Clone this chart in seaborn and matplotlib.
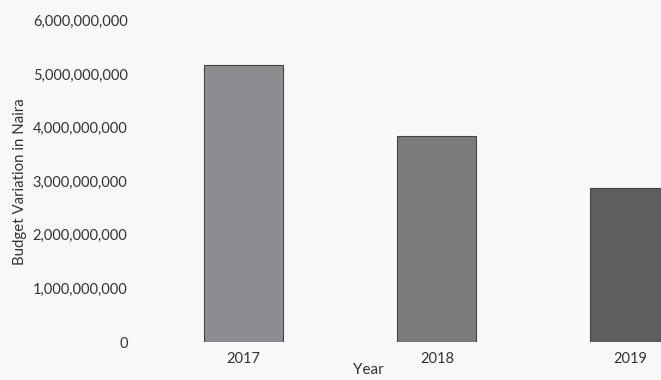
import numpy as np
import pandas as pd
import matplotlib
matplotlib.use('Agg')
import matplotlib.pyplot as plt
import seaborn as sns
from matplotlib.ticker import FuncFormatter

# Data
years = ['2017', '2018', '2019']
variation = [5170000000, 3850000000, 2870000000]
bar_colors = ['#8b8b92', '#7b7b7b', '#5e5e5e']

df = pd.DataFrame({'Year': years, 'Variation': variation})

sns.set_style('white')
plt.rcParams['font.family'] = ['Lato', 'DejaVu Sans']

fig = plt.figure(figsize=(6.61, 3.80), dpi=100, facecolor='#f8f8f8')
ax = fig.add_axes([147 / 661, 0.1, 1 - 147 / 661, 0.846])
ax.set_facecolor('#f8f8f8')

sns.barplot(data=df, x='Year', y='Variation', hue='Year', palette=bar_colors,
            width=0.41, edgecolor='#444444', linewidth=0.8, legend=False, ax=ax)

ax.set_ylim(0, 6e9)
ax.set_xlim(-0.5, 2.16)
ax.set_yticks(np.arange(0, 7e9, 1e9))
ax.yaxis.set_major_formatter(FuncFormatter(lambda v, p: '{:,.0f}'.format(v)))
ax.tick_params(axis='y', length=0, pad=14, labelsize=10.5, labelcolor='#333333')
ax.tick_params(axis='x', length=0, pad=7, labelsize=10.5, labelcolor='#333333')
sns.despine(ax=ax, left=True, bottom=True)

ax.set_ylabel('Budget Variation in Naira', fontsize=10.8, color='#333333', labelpad=4)
ax.set_xlabel('Year', fontsize=11, color='#333333')
ax.xaxis.set_label_coords(0.43, -0.065)

fig.savefig('out.png', dpi=100, facecolor=fig.get_facecolor())
